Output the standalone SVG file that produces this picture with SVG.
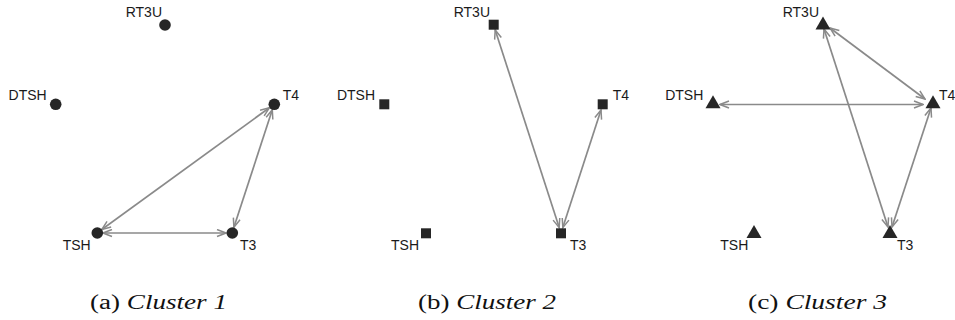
<svg xmlns="http://www.w3.org/2000/svg" xmlns:xlink="http://www.w3.org/1999/xlink" width="955" height="320" viewBox="0 0 955 320">
<style>
.edge{stroke:#8a8a8a;stroke-width:1.7;fill:none;marker-start:url(#ah);marker-end:url(#ah)}
.lbl{font-family:"Liberation Sans",Arial,sans-serif;font-size:14px;fill:#1a1a1a}
.end{text-anchor:end}
.node{fill:#262626}
.cap{font-family:"Liberation Serif","Times New Roman",serif;font-size:20px;fill:#111}
.it{font-style:italic}
</style>
<defs>
<marker id="ah" markerUnits="userSpaceOnUse" markerWidth="11" markerHeight="9" viewBox="0 0 11 9" refX="10" refY="4.5" orient="auto-start-reverse">
<path d="M1,1 L10,4.5 L1,8" fill="none" stroke="#8a8a8a" stroke-width="1.5"/>
</marker>
<circle id="circ" r="5.8"/>
<rect id="sq" x="-5" y="-5" width="10" height="10"/>
<polygon id="tri" points="0,-8 -7.5,5 7.5,5"/>
</defs>

<g id="edges">
<line class="edge" x1="101.8" y1="229.5" x2="269.4" y2="107.7"/>
<line class="edge" x1="103" y1="233" x2="226" y2="233"/>
<line class="edge" x1="233.9" y1="227.3" x2="272.3" y2="109.8"/>
<line class="edge" x1="495.2" y1="30" x2="559.2" y2="227.6"/>
<line class="edge" x1="601" y1="110" x2="562.8" y2="227.6"/>
<line class="edge" x1="830" y1="28" x2="925" y2="99"/>
<line class="edge" x1="720" y1="104.5" x2="923" y2="104.5"/>
<line class="edge" x1="824" y1="29" x2="888" y2="227"/>
<line class="edge" x1="931" y1="108" x2="892" y2="227"/>
</g>

<g id="a-RT3U"><use href="#circ" class="node" x="165" y="25"/><text class="lbl end" x="162" y="17.3">RT3U</text></g>
<g id="a-DTSH"><use href="#circ" class="node" x="55.7" y="104.3"/><text class="lbl end" x="46.7" y="100">DTSH</text></g>
<g id="a-T4"><use href="#circ" class="node" x="274.3" y="104.3"/><text class="lbl" x="282.7" y="100">T4</text></g>
<g id="a-TSH"><use href="#circ" class="node" x="97.3" y="233"/><text class="lbl end" x="90.7" y="250">TSH</text></g>
<g id="a-T3"><use href="#circ" class="node" x="232.3" y="233"/><text class="lbl" x="240" y="250">T3</text></g>

<g id="b-RT3U"><use href="#sq" class="node" x="493.7" y="24.7"/><text class="lbl end" x="490" y="17.3">RT3U</text></g>
<g id="b-DTSH"><use href="#sq" class="node" x="384.3" y="104.3"/><text class="lbl end" x="375" y="100">DTSH</text></g>
<g id="b-T4"><use href="#sq" class="node" x="602.7" y="104.3"/><text class="lbl" x="612.7" y="100">T4</text></g>
<g id="b-TSH"><use href="#sq" class="node" x="426" y="233.3"/><text class="lbl end" x="419" y="250">TSH</text></g>
<g id="b-T3"><use href="#sq" class="node" x="561" y="233.3"/><text class="lbl" x="570" y="250">T3</text></g>

<g id="c-RT3U"><use href="#tri" class="node" x="823" y="24.5"/><text class="lbl end" x="819" y="17.3">RT3U</text></g>
<g id="c-DTSH"><use href="#tri" class="node" x="713" y="103.3"/><text class="lbl end" x="703.3" y="100">DTSH</text></g>
<g id="c-T4"><use href="#tri" class="node" x="933" y="103.3"/><text class="lbl" x="939" y="100">T4</text></g>
<g id="c-TSH"><use href="#tri" class="node" x="754" y="233"/><text class="lbl end" x="748.3" y="250">TSH</text></g>
<g id="c-T3"><use href="#tri" class="node" x="890" y="233"/><text class="lbl" x="897" y="250">T3</text></g>

<text class="cap" x="90" y="309" textLength="137" lengthAdjust="spacingAndGlyphs">(a) <tspan class="it">Cluster 1</tspan></text>
<text class="cap" x="418" y="309" textLength="138" lengthAdjust="spacingAndGlyphs">(b) <tspan class="it">Cluster 2</tspan></text>
<text class="cap" x="748" y="309" textLength="139" lengthAdjust="spacingAndGlyphs">(c) <tspan class="it">Cluster 3</tspan></text>
</svg>
